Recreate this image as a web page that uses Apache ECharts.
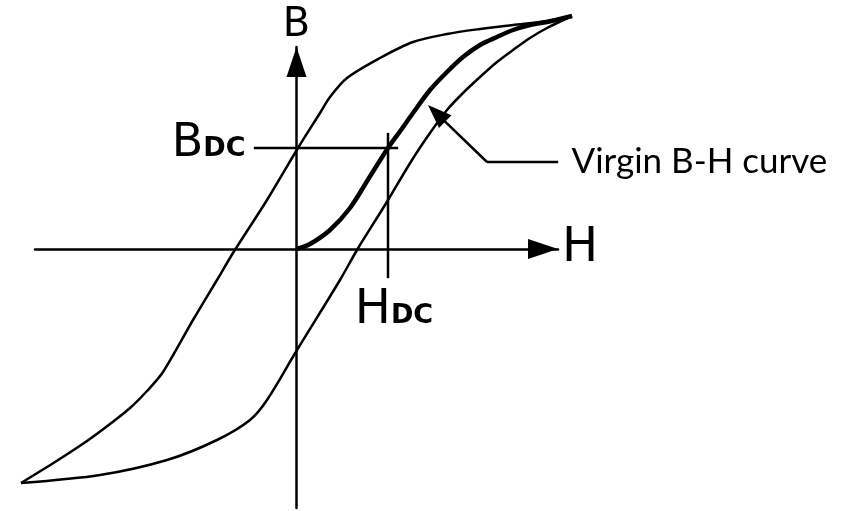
<!DOCTYPE html>
<html>
<head>
<meta charset="utf-8">
<script src="https://cdn.jsdelivr.net/npm/echarts@6/dist/echarts.min.js"></script>
<style>
  html, body { margin: 0; padding: 0; background: #fff; }
  #chart { width: 846px; height: 511px; }
</style>
</head>
<body>
<div id="chart"></div>
<script>
// Hysteresis loop, upper (descending) branch: field H and flux density B
const upperH = [2.755, 2.505, 2.165, 1.835, 1.505, 1.165, 0.835, 0.505, 0.335, 0.235, 0.015, -0.295, -0.635, -0.795, -1.035, -1.335, -1.495, -1.665, -1.865, -2.095, -2.415, -2.755];
const upperB = [2.33, 2.28, 2.24, 2.20, 2.15, 2.07, 1.91, 1.71, 1.52, 1.36, 1.01, 0.49, -0.04, -0.31, -0.71, -1.23, -1.42, -1.59, -1.75, -1.92, -2.13, -2.34];

// Lower (ascending) branch
const lowerH = [-2.755, -1.965, -1.295, -0.795, -0.465, -0.295, 0.005, 0.435, 0.605, 0.885, 1.155, 1.335, 1.505, 1.665, 1.835, 2.005, 2.165, 2.335, 2.505, 2.755];
const lowerB = [-2.34, -2.26, -2.11, -1.91, -1.71, -1.51, -1.01, -0.31, -0.01, 0.44, 0.89, 1.16, 1.39, 1.56, 1.72, 1.87, 1.99, 2.11, 2.21, 2.33];

// Initial magnetisation (virgin) curve
const virginH = [0, 0.135, 0.335, 0.535, 0.725, 0.915, 1.045, 1.165, 1.335, 1.505, 1.665, 1.835, 2.005, 2.165, 2.335, 2.505, 2.755];
const virginB = [0, 0.05, 0.19, 0.41, 0.71, 1.01, 1.19, 1.36, 1.59, 1.77, 1.92, 2.04, 2.12, 2.19, 2.24, 2.27, 2.33];

// DC operating point on the virgin curve
const H_DC = 0.915;
const B_DC = 1.01;
const bdcLineH = [-0.425, 1.015];
const hdcLineB = [1.16, -0.29];

// Callout for the virgin curve
const calloutH = [2.615, 1.905];
const calloutB = [0.87, 0.87];
const calloutTip = [1.401, 1.357];
const calloutText = 'Virgin B-H curve';

// Visible axis extents (the arrows end here)
const hAxisRange = [-2.615, 2.615];
const bAxisRange = [-2.59, 2.02];
// Drawing area for the curves (whole canvas, same scale as the axes)
const hPlotRange = [-2.965, 5.495];
const bPlotRange = [-2.62, 2.49];

const pairs = (xs, ys) => xs.map((x, i) => [x, ys[i]]);

const INK = '#000';
const thin = 2.5;
const SANS = 'DejaVu Sans';

const chart = echarts.init(document.getElementById('chart'), null, { renderer: 'canvas' });

const hiddenAxis = { type: 'value', show: false, gridIndex: 0 };

const arrowAxis = {
  type: 'value',
  gridIndex: 1,
  axisLabel: { show: false },
  axisTick: { show: false },
  splitLine: { show: false },
  axisLine: {
    show: true,
    onZero: true,
    symbol: ['none', 'triangle'],
    symbolSize: [20, 30],
    symbolOffset: [0, -15],
    lineStyle: { color: INK, width: thin }
  },
  nameLocation: 'end'
};

const thinLine = { color: INK, width: thin };

chart.setOption({
  animation: false,
  backgroundColor: '#fff',
  grid: [
    { left: 0, right: 0, top: 0, bottom: 0, containLabel: false },
    { left: 35, right: 288, top: 47, bottom: 3, containLabel: false }
  ],
  xAxis: [
    Object.assign({}, hiddenAxis, { min: hPlotRange[0], max: hPlotRange[1] }),
    Object.assign({}, arrowAxis, {
      min: hAxisRange[0], max: hAxisRange[1],
      name: 'H', nameGap: 4,
      nameTextStyle: { fontFamily: SANS, fontSize: 48, color: INK, verticalAlign: 'middle', padding: [7, 0, 0, 0] }
    })
  ],
  yAxis: [
    Object.assign({}, hiddenAxis, { min: bPlotRange[0], max: bPlotRange[1] }),
    Object.assign({}, arrowAxis, {
      min: bAxisRange[0], max: bAxisRange[1],
      name: 'B', nameGap: 1,
      nameTextStyle: { fontFamily: SANS, fontSize: 40, color: INK }
    })
  ],
  series: [
    {
      name: 'upper', type: 'line', data: pairs(upperH, upperB),
      smooth: 0.3, showSymbol: false,
      lineStyle: thinLine
    },
    {
      name: 'lower', type: 'line', data: pairs(lowerH, lowerB),
      smooth: 0.3, showSymbol: false,
      lineStyle: thinLine
    },
    {
      name: 'virgin', type: 'line', data: pairs(virginH, virginB),
      smooth: 0.3, showSymbol: false,
      lineStyle: { color: INK, width: 4.5 }
    },
    {
      name: 'Bdc', type: 'line',
      symbol: 'circle', symbolSize: 1, itemStyle: { color: INK },
      lineStyle: thinLine,
      data: [
        {
          value: [bdcLineH[0], B_DC],
          label: {
            show: true, position: 'left', distance: 9, offset: [1, -4],
            formatter: '{b|B}{s|DC}',
            rich: {
              b: { fontFamily: SANS, fontSize: 46, color: INK, verticalAlign: 'bottom', lineHeight: 46 },
              s: { fontFamily: SANS, fontSize: 27, fontWeight: 'bold', color: INK, verticalAlign: 'bottom', lineHeight: 27, padding: [0, 0, 5, 0] }
            }
          }
        },
        [bdcLineH[1], B_DC]
      ]
    },
    {
      name: 'Hdc', type: 'line',
      symbol: 'circle', symbolSize: 1, itemStyle: { color: INK },
      lineStyle: thinLine,
      data: [
        [H_DC, hdcLineB[0]],
        {
          value: [H_DC, hdcLineB[1]],
          label: {
            show: true, position: 'bottom', distance: 8, offset: [6, 0],
            formatter: '{h|H}{s|DC}',
            rich: {
              h: { fontFamily: SANS, fontSize: 48, color: INK, verticalAlign: 'bottom', lineHeight: 48 },
              s: { fontFamily: SANS, fontSize: 27, fontWeight: 'bold', color: INK, verticalAlign: 'bottom', lineHeight: 27, padding: [0, 0, 5, 0] }
            }
          }
        }
      ]
    },
    {
      name: 'callout', type: 'line',
      symbol: 'circle', symbolSize: 1, itemStyle: { color: INK },
      lineStyle: thinLine,
      data: [
        {
          value: [calloutH[0], calloutB[0]],
          label: {
            show: true, position: 'right', distance: 13,
            formatter: calloutText,
            fontFamily: 'Lato', fontSize: 35, color: INK
          }
        },
        [calloutH[1], calloutB[1]]
      ],
      markLine: {
        silent: true,
        symbol: ['none', 'triangle'],
        symbolSize: [18, 24],
        label: { show: false },
        lineStyle: { color: INK, width: thin, type: 'solid' },
        data: [[{ coord: [calloutH[1], calloutB[1]] }, { coord: calloutTip }]]
      }
    }
  ]
});
</script>
</body>
</html>
